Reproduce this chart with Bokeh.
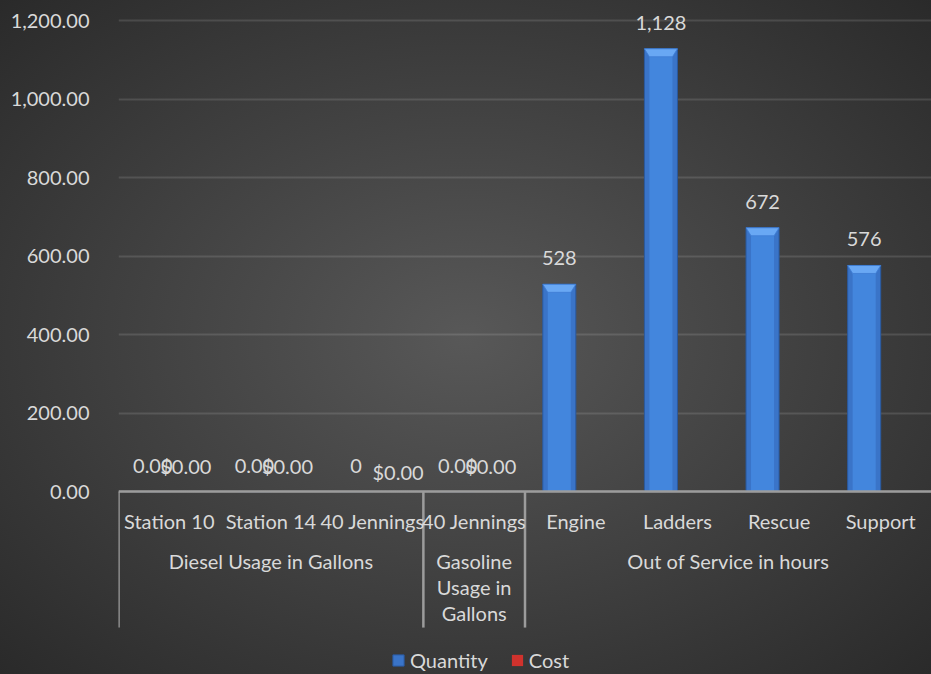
from bokeh.plotting import figure
from bokeh.models import (FactorRange, Range1d, ColumnDataSource, FixedTicker,
                          NumeralTickFormatter, Legend, LegendItem, InlineStyleSheet)
from bokeh.transform import dodge
from bokeh.core.properties import value
from bokeh.embed import file_html
from bokeh.resources import INLINE

# ---------------- data ----------------
groups = ["Diesel Usage in Gallons", "Diesel Usage in Gallons", "Diesel Usage in Gallons",
          "Gasoline Usage in Gallons",
          "Out of Service in hours", "Out of Service in hours",
          "Out of Service in hours", "Out of Service in hours"]
names = ["Station 10", "Station 14", "40 Jennings", "40 Jennings",
         "Engine", "Ladders", "Rescue", "Support"]
quantity = [0, 0, 0, 0, 528, 1128, 672, 576]
quantity_fmt = ["{:,.2f}", "{:,.2f}", "{:,.0f}", "{:,.2f}",
                "{:,.0f}", "{:,.0f}", "{:,.0f}", "{:,.0f}"]
cost = [0, 0, 0, 0, None, None, None, None]
cost_fmt = "${:,.2f}"
group_names = ["Diesel Usage in Gallons", "Gasoline Usage in Gallons", "Out of Service in hours"]
group_texts = ["Diesel Usage in Gallons", "Gasoline\nUsage in\nGallons", "Out of Service in hours"]
y_ticks = [0, 200, 400, 600, 800, 1000, 1200]

# ---------------- styles ----------------
W, H = 931, 674
Y0, Y1 = -466, 1251
PX = H / (Y1 - Y0)
XPX = (W - 118) / len(names)
FONT = "Lato"
FS = "20px"
TXT = "#d9d9d9"
AXIS = "#9c9c9c"
BAR_W = 0.325
OFF = BAR_W / 2
BEVEL = 8 / PX
INSET = 5 / XPX
cost_label_dx = [0, 0, 9, 0, 0, 0, 0, 0]
cost_label_dy = [0, 0, 6, 0, 0, 0, 0, 0]

factors = list(zip(groups, names))
src = ColumnDataSource(dict(
    x=factors,
    name=names,
    qty=quantity,
    qty_body=[max(0.0, q - BEVEL) for q in quantity],
    qty_label=[f.format(q) for f, q in zip(quantity_fmt, quantity)],
))
keep = [i for i, c in enumerate(cost) if c is not None]
csrc = ColumnDataSource(dict(
    x=[factors[i] for i in keep], cost=[cost[i] for i in keep],
    label=[cost_fmt.format(cost[i]) for i in keep],
    dx=[cost_label_dx[i] for i in keep],
    dy=[-26 + cost_label_dy[i] for i in keep],
))

p = figure(width=W, height=H,
           x_range=FactorRange(*factors, group_padding=0, factor_padding=0, range_padding=0),
           y_range=Range1d(Y0, Y1),
           output_backend="svg", toolbar_location=None, x_axis_location=None,
           min_border_left=118, min_border_right=0, min_border_top=0, min_border_bottom=0)
p.background_fill_alpha = 0
p.border_fill_alpha = 0
p.outline_line_color = None
p.stylesheets = [InlineStyleSheet(css=":host { background: radial-gradient(ellipse farthest-corner at 50% 50%, #585858 0%, #2a2a2a 100%); }")]

ax = p.yaxis[0]
ax.ticker = FixedTicker(ticks=y_ticks)
ax.formatter = NumeralTickFormatter(format="0,0.00")
ax.axis_line_color = None
ax.major_tick_line_color = None
ax.minor_tick_line_color = None
ax.major_label_standoff = 23
ax.major_label_text_font = FONT
ax.major_label_text_font_size = FS
ax.major_label_text_color = TXT
p.xgrid.visible = False
p.ygrid.grid_line_color = "white"
p.ygrid.grid_line_alpha = 0.12
p.ygrid.grid_line_width = 2

xq = dodge("x", -OFF, range=p.x_range)
xc = dodge("x", OFF, range=p.x_range)

# quantity bars with a bevelled look
qbar = p.vbar(x=xq, top="qty", bottom=0, width=BAR_W, source=src,
              fill_color="#3a74c8", line_color="#2a5aa0", line_width=1)
p.vbar(x=xq, top="qty_body", bottom=0, width=BAR_W - 2 * INSET, source=src,
       fill_color="#4386dd", line_color=None)
bev_xs, bev_ys = [], []
for i, q in enumerate(quantity):
    if q > 0:
        cx = i + 0.5 - OFF          # synthetic coordinate of the Quantity bar
        l, r = cx - BAR_W / 2, cx + BAR_W / 2
        bev_xs.append([l, r, r - INSET, l + INSET])
        bev_ys.append([q, q, q - BEVEL, q - BEVEL])
p.patches(xs=bev_xs, ys=bev_ys, fill_color="#69a8f4", line_color="#3f7ed6", line_width=0.8)

cbar = p.vbar(x=xc, top="cost", bottom=0, width=BAR_W, source=csrc,
              fill_color="#d0322d", line_color=None)

# axis lines
n = len(names)
bounds = [0]
for g in group_names:
    bounds.append(bounds[-1] + groups.count(g))
SEP = 136 / PX
p.segment(x0=[0], x1=[n], y0=[0], y1=[0], line_color=AXIS, line_width=2.5)
p.segment(x0=bounds[:-1], x1=bounds[:-1], y0=[0] * (len(bounds) - 1),
          y1=[-SEP] * (len(bounds) - 1), line_color=AXIS, line_width=2.5)

# data labels
p.text(x=xq, y="qty", text="qty_label", source=src, text_align="center",
       text_baseline="middle", y_offset=-26, text_font=value(FONT),
       text_font_size=FS, text_color=TXT)
p.text(x=xc, y="cost", text="label", source=csrc, text_align="center",
       text_baseline="middle", x_offset="dx", y_offset="dy", text_font=value(FONT),
       text_font_size=FS, text_color=TXT)

# category labels
p.text(x="x", y=0, text="name", source=src,
       text_align="center", text_baseline="middle", y_offset=29,
       text_font=value(FONT), text_font_size=FS, text_color=TXT)
gcenters = [(a + b) / 2 for a, b in zip(bounds[:-1], bounds[1:])]
p.text(x=gcenters, y=[0] * len(gcenters), text=group_texts, text_align="center",
       text_baseline="top", y_offset=57, text_line_height=1.1,
       text_font=value(FONT), text_font_size=FS, text_color=TXT)

legend = Legend(items=[LegendItem(label="Quantity", renderers=[qbar]),
                       LegendItem(label="Cost", renderers=[cbar])],
                orientation="horizontal", location=(273, 2),
                glyph_width=14, glyph_height=14, label_standoff=5, spacing=22,
                padding=0, margin=0, background_fill_alpha=0, border_line_color=None,
                label_text_font=FONT, label_text_font_size=FS, label_text_color=TXT)
p.add_layout(legend)

open("out.html", "w").write(file_html(p, INLINE))
